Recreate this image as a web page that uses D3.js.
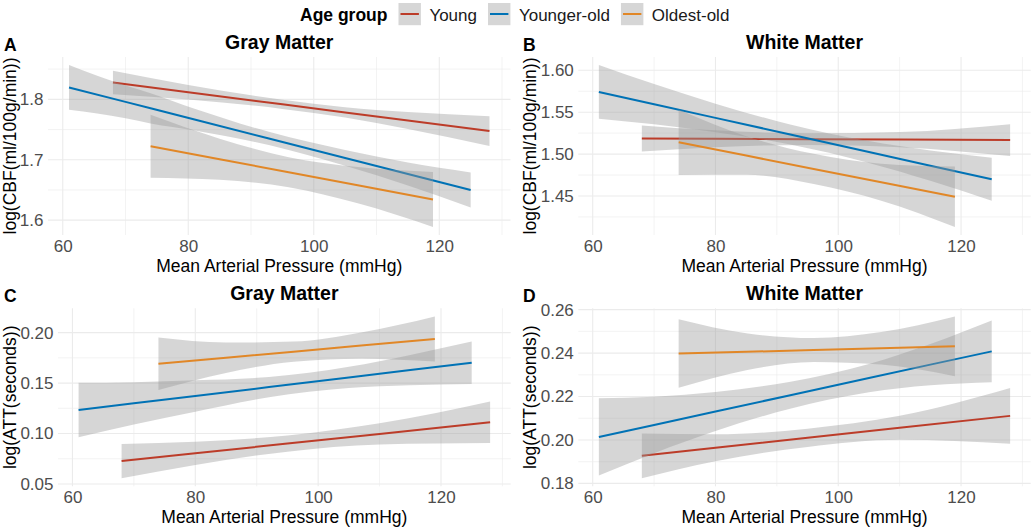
<!DOCTYPE html>
<html><head><meta charset="utf-8">
<script src="https://cdn.jsdelivr.net/npm/d3@7"></script>
<style>
body{margin:0;background:#fff}
svg{display:block}
text{font-family:"Liberation Sans",Arial,Helvetica,sans-serif}
</style>
</head><body>
<svg id="chart" width="1035" height="530"></svg>
<script>
// ---------------- DATA ----------------
const groups = ["Young", "Younger-old", "Oldest-old"];
const xTicks = [60, 80, 100, 120];
const yTicksGmCBF = [1.6, 1.7, 1.8];
const yTicksWmCBF = [1.45, 1.50, 1.55, 1.60];
const yTicksGmATT = [0.05, 0.10, 0.15, 0.20];
const yTicksWmATT = [0.18, 0.20, 0.22, 0.24, 0.26];

// rows: [MAP (mmHg), fitted value, lower CI, upper CI]
const gmCBF_young = [[68,1.8279,1.8084,1.8474],[80,1.8118,1.7998,1.8238],[95,1.7917,1.7842,1.7992],[105,1.7783,1.7698,1.7868],[115,1.7649,1.7509,1.7789],[128,1.7474,1.7228,1.7720]];
const gmCBF_youngerOld = [[61,1.8197,1.7827,1.8567],[70,1.7958,1.7688,1.8228],[74,1.7852,1.7602,1.8102],[81,1.7666,1.7486,1.7846],[93,1.7348,1.7238,1.7458],[105,1.7030,1.6900,1.7160],[115,1.6764,1.6574,1.6954],[125,1.6499,1.6209,1.6789]];
const gmCBF_oldestOld = [[74,1.7223,1.6703,1.7743],[85,1.7008,1.6668,1.7348],[96,1.6793,1.6543,1.7043],[107,1.6578,1.6278,1.6878],[119,1.6343,1.5888,1.6798]];

const wmCBF_young = [[68,1.5187,1.5032,1.5342],[80,1.5183,1.5083,1.5283],[95,1.5178,1.5108,1.5248],[110,1.5173,1.5083,1.5263],[128,1.5167,1.4977,1.5357]];
const wmCBF_youngerOld = [[61,1.5742,1.5422,1.6062],[70,1.5595,1.5355,1.5835],[80,1.5432,1.5262,1.5602],[92,1.5237,1.5117,1.5357],[105,1.5025,1.4895,1.5155],[115,1.4862,1.4682,1.5042],[125,1.4699,1.4443,1.4955]];
const wmCBF_oldestOld = [[74,1.5141,1.4751,1.5531],[85,1.4982,1.4752,1.5212],[96,1.4823,1.4643,1.5003],[107,1.4664,1.4444,1.4884],[119,1.4491,1.4131,1.4851]];

const gmATT_young = [[68,0.0727,0.0557,0.0897],[80,0.0804,0.0689,0.0919],[95,0.0900,0.0820,0.0980],[110,0.0996,0.0891,0.1101],[128,0.1111,0.0905,0.1317]];
const gmATT_youngerOld = [[61,0.1233,0.0963,0.1503],[70,0.1299,0.1089,0.1509],[80,0.1372,0.1217,0.1527],[92,0.1460,0.1360,0.1560],[105,0.1556,0.1451,0.1661],[115,0.1629,0.1479,0.1779],[125,0.1702,0.1492,0.1912]];
const gmATT_oldestOld = [[74,0.1691,0.1431,0.1951],[85,0.1751,0.1601,0.1901],[96,0.1811,0.1711,0.1911],[107,0.1872,0.1742,0.2002],[119,0.1937,0.1713,0.2161]];

const wmATT_young = [[68,0.1927,0.1824,0.2030],[80,0.1964,0.1902,0.2026],[95,0.2010,0.1968,0.2052],[110,0.2056,0.2001,0.2111],[128,0.2111,0.1983,0.2239]];
const wmATT_youngerOld = [[61,0.2014,0.1836,0.2192],[70,0.2069,0.1939,0.2199],[80,0.2131,0.2041,0.2221],[92,0.2205,0.2143,0.2267],[105,0.2285,0.2220,0.2350],[115,0.2347,0.2252,0.2442],[125,0.2408,0.2266,0.2550]];
const wmATT_oldestOld = [[74,0.2398,0.2240,0.2556],[85,0.2406,0.2321,0.2491],[96,0.2414,0.2359,0.2469],[107,0.2422,0.2347,0.2497],[119,0.2431,0.2293,0.2569]];

// ---------------- STYLE / LAYOUT ----------------
const colors = ["#BC3C29", "#0072B5", "#E18727"];
const FONT_TICK = 17, FONT_AXT = 17.5, FONT_TITLE = 19.5, FONT_TAG = 17.5;

const panels = [
  {tag:"A", title:"Gray Matter", ylab:"log(CBF(ml/100g/min))", yTicks:yTicksGmCBF, fmt:d3.format(".1f"),
   series:[gmCBF_young, gmCBF_youngerOld, gmCBF_oldestOld], l:48, r:510.5, t:57, b:235, tagX:4, ytX:15.5},
  {tag:"B", title:"White Matter", ylab:"log(CBF(ml/100g/min))", yTicks:yTicksWmCBF, fmt:d3.format(".2f"),
   series:[wmCBF_young, wmCBF_youngerOld, wmCBF_oldestOld], l:578.3, r:1030.7, t:57, b:235, tagX:523, ytX:536},
  {tag:"C", title:"Gray Matter", ylab:"log(ATT(seconds))", yTicks:yTicksGmATT, fmt:d3.format(".2f"),
   series:[gmATT_young, gmATT_youngerOld, gmATT_oldestOld], l:58, r:510.7, t:308.3, b:486.3, tagX:4, ytX:15.5},
  {tag:"D", title:"White Matter", ylab:"log(ATT(seconds))", yTicks:yTicksWmATT, fmt:d3.format(".2f"),
   series:[wmATT_young, wmATT_youngerOld, wmATT_oldestOld], l:578.3, r:1030.7, t:308.3, b:486.3, tagX:523, ytX:536}
];

const svg = d3.select("#chart");

function expand(ext) {
  const d = ext[1] - ext[0];
  return [ext[0] - 0.05 * d, ext[1] + 0.05 * d];
}
function minorsOf(ticks, domain) {
  const step = ticks[1] - ticks[0];
  const out = [];
  out.push(ticks[0] - step / 2);
  for (let i = 0; i < ticks.length - 1; i++) out.push((ticks[i] + ticks[i + 1]) / 2);
  out.push(ticks[ticks.length - 1] + step / 2);
  return out.filter(v => v >= domain[0] && v <= domain[1]);
}

panels.forEach(p => {
  const all = p.series.flat();
  const xDom = expand(d3.extent(all, d => d[0]));
  const yDom = expand([d3.min(all, d => d[2]), d3.max(all, d => d[3])]);
  const x = d3.scaleLinear().domain(xDom).range([p.l, p.r]);
  const y = d3.scaleLinear().domain(yDom).range([p.b, p.t]);
  const g = svg.append("g");

  // grid
  const grid = g.append("g");
  minorsOf(xTicks, xDom).forEach(v => grid.append("line")
    .attr("x1", x(v)).attr("x2", x(v)).attr("y1", p.t).attr("y2", p.b)
    .attr("stroke", "#ebebeb").attr("stroke-width", 0.6));
  minorsOf(p.yTicks, yDom).forEach(v => grid.append("line")
    .attr("x1", p.l).attr("x2", p.r).attr("y1", y(v)).attr("y2", y(v))
    .attr("stroke", "#ebebeb").attr("stroke-width", 0.6));
  xTicks.forEach(v => grid.append("line")
    .attr("x1", x(v)).attr("x2", x(v)).attr("y1", p.t).attr("y2", p.b)
    .attr("stroke", "#ebebeb").attr("stroke-width", 1.1));
  p.yTicks.forEach(v => grid.append("line")
    .attr("x1", p.l).attr("x2", p.r).attr("y1", y(v)).attr("y2", y(v))
    .attr("stroke", "#ebebeb").attr("stroke-width", 1.1));

  // axes via d3 axis generators (no domain line, no tick marks)
  const xAxis = g.append("g").attr("transform", `translate(0,${p.b})`)
    .call(d3.axisBottom(x).tickValues(xTicks).tickSize(0).tickPadding(4.5).tickFormat(d3.format("d")));
  const yAxis = g.append("g").attr("transform", `translate(${p.l},0)`)
    .call(d3.axisLeft(y).tickValues(p.yTicks).tickSize(0).tickPadding(4.5).tickFormat(p.fmt));
  [xAxis, yAxis].forEach(a => {
    a.select(".domain").remove();
    a.selectAll("text").attr("font-size", FONT_TICK).attr("fill", "#4d4d4d")
      .attr("font-family", '"Liberation Sans",Arial,sans-serif');
  });

  // smooths
  const area = d3.area().x(d => x(d[0])).y0(d => y(d[2])).y1(d => y(d[3])).curve(d3.curveMonotoneX);
  const line = d3.line().x(d => x(d[0])).y(d => y(d[1]));
  p.series.forEach((s, i) => {
    g.append("path").attr("d", area(s)).attr("fill", "#999999").attr("fill-opacity", 0.4);
    g.append("path").attr("d", line(s)).attr("fill", "none").attr("stroke", colors[i]).attr("stroke-width", 2);
  });

  // titles
  const cx = (p.l + p.r) / 2;
  g.append("text").attr("x", cx).attr("y", p.t - 8).attr("text-anchor", "middle")
    .attr("font-size", FONT_TITLE).attr("font-weight", "bold").attr("fill", "#000").text(p.title);
  g.append("text").attr("x", p.tagX).attr("y", p.t - 6).attr("font-size", FONT_TAG)
    .attr("font-weight", "bold").attr("fill", "#000").text(p.tag);
  g.append("text").attr("x", cx).attr("y", p.b + 37).attr("text-anchor", "middle")
    .attr("font-size", FONT_AXT).attr("fill", "#000").text("Mean Arterial Pressure (mmHg)");
  g.append("text").attr("transform", `translate(${p.ytX},${(p.t + p.b) / 2}) rotate(-90)`)
    .attr("text-anchor", "middle").attr("font-size", FONT_AXT).attr("fill", "#000").text(p.ylab);
});

// legend
const leg = svg.append("g");
const lt = leg.append("text").attr("x", 300).attr("y", 20.5).attr("font-size", 17.5)
  .attr("font-weight", "bold").attr("fill", "#000").text("Age group");
let cursor = 300 + lt.node().getComputedTextLength() + 11;
groups.forEach((name, i) => {
  leg.append("rect").attr("x", cursor).attr("y", 3).attr("width", 22.4).attr("height", 22.2)
    .attr("fill", "#999999").attr("fill-opacity", 0.4);
  leg.append("line").attr("x1", cursor + 2).attr("x2", cursor + 20.4).attr("y1", 14).attr("y2", 14)
    .attr("stroke", colors[i]).attr("stroke-width", 2);
  const t = leg.append("text").attr("x", cursor + 22.4 + 8.5).attr("y", 20.5).attr("font-size", 17)
    .attr("fill", "#1a1a1a").text(name);
  cursor = cursor + 22.4 + 8.5 + t.node().getComputedTextLength() + 11;
});
</script>
</body></html>
